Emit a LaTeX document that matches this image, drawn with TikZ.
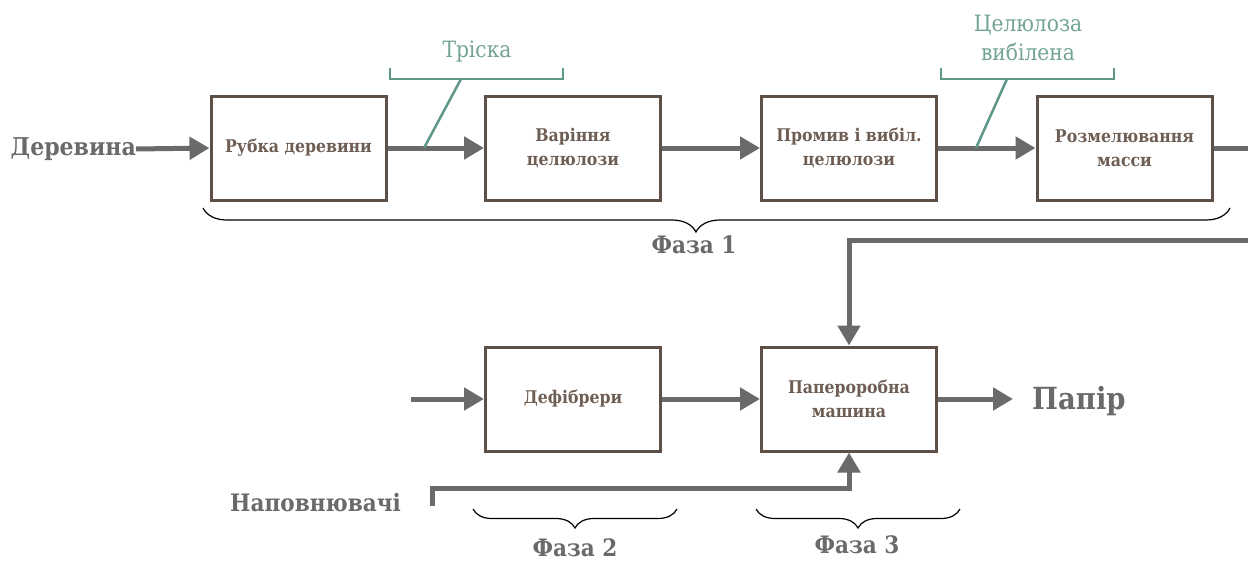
\documentclass[tikz,border=0pt]{standalone}
\usepackage{fontspec}
\setmainfont{DejaVu Serif Condensed}
\usetikzlibrary{arrows.meta,decorations.pathreplacing,positioning}
\definecolor{flowgray}{HTML}{6A6A6A}
\definecolor{boxbrown}{HTML}{5E4F47}
\definecolor{boxtext}{HTML}{6E5D52}
\definecolor{tealc}{HTML}{5E9689}
\definecolor{tealtext}{HTML}{72A396}
\tikzset{
  procbox/.style={draw=boxbrown, line width=3pt, minimum width=175pt, minimum height=104pt,
    inner sep=0pt, align=center, text=boxtext, font=\bfseries\fontsize{17.5}{24}\selectfont},
  flow/.style={draw=flowgray, line width=5pt, -{Triangle[length=20pt,width=22pt]}},
  flowline/.style={draw=flowgray, line width=5pt},
  biglabel/.style={text=flowgray, font=\bfseries\fontsize{24.5}{28}\selectfont, inner sep=0pt},
  teallabel/.style={text=tealtext, font=\fontsize{22.5}{29}\selectfont, align=center, inner sep=0pt},
  bracketline/.style={draw=tealc, line width=2.5pt},
  phasebrace/.style={draw=black, line width=1.2pt, decorate},
  phaselabel/.style={text=flowgray, font=\bfseries\fontsize{24}{28}\selectfont, inner sep=0pt}
}
\begin{document}
\begin{tikzpicture}[x=1pt,y=-1pt]
\useasboundingbox (0,0) rectangle (1248,562);
% top row
\node[procbox] (b1) at (298.5,148) {Рубка деревини};
\node[procbox] (b2) at (573,148) {Варіння\\целюлози};
\node[procbox] (b3) at (849,148) {Промив і вибіл.\\целюлози};
\node[procbox] (b4) at (1124.5,148) {Розмелювання\\масси};
\node[biglabel, anchor=east] (wood) at (136,149) {Деревина};
\coordinate (outR) at (1248,148);
\coordinate (inR) at (1248,240);
\coordinate (turn) at (849,240);
\draw[flow] (wood.east) -- (b1.west);
\draw[flow] (b1) -- (b2);
\draw[flow] (b2) -- (b3);
\draw[flow] (b3) -- (b4);
\draw[flowline] (b4.east) -- (outR);
% labels with brackets
\node[teallabel] (chip) at (477,52) {Тріска};
\coordinate (c1a) at (390,68); \coordinate (c1b) at (390,79);
\coordinate (c1c) at (563,79); \coordinate (c1d) at (563,68);
\coordinate (c1e) at (461,79); \coordinate (c1f) at (424,148);
\draw[bracketline] (c1a) -- (c1b) -- (c1c) -- (c1d);
\draw[bracketline] (c1e) -- (c1f);
\node[teallabel] (pulp) at (1028,38) {Целюлоза\\вибілена};
\coordinate (c2a) at (941,68); \coordinate (c2b) at (941,79);
\coordinate (c2c) at (1114,79); \coordinate (c2d) at (1114,68);
\coordinate (c2e) at (1007,79); \coordinate (c2f) at (976,148);
\draw[bracketline] (c2a) -- (c2b) -- (c2c) -- (c2d);
\draw[bracketline] (c2e) -- (c2f);
% phase 1 brace
\coordinate (p1a) at (203,208); \coordinate (p1b) at (1230,208);
\draw[phasebrace, decoration={brace, mirror, amplitude=24pt, aspect=0.48}] (p1a) -- (p1b);
\node[phaselabel] (ph1) at (694,245) {Фаза 1};
% bottom row
\node[procbox] (d) at (573,399) {Дефібрери};
\node[procbox] (m) at (849,399) {Папероробна\\машина};
\coordinate (inL) at (411,399);
\draw[flow] (inL) -- (d.west);
\draw[flow] (d) -- (m);
\draw[flow] (inR) -- (turn) -- (m.north);
\node[biglabel, anchor=west, font=\bfseries\fontsize{30.5}{34}\selectfont] (paper) at (1032,401) {Папір};
\coordinate (pin) at (1013,399);
\draw[flow] (m.east) -- (pin);
\node[biglabel, anchor=east, font=\bfseries\fontsize{24}{26}\selectfont] (fill) at (401,503) {Наповнювачі};
\coordinate (f0) at (432,506);
\coordinate (f1) at (432,488);
\coordinate (f2) at (849,488);
\draw[flow] (f0) -- (f1) -- (f2) -- (m.south);
% phase 2 & 3 braces
\coordinate (p2a) at (473,509); \coordinate (p2b) at (677,509);
\draw[phasebrace, decoration={brace, mirror, amplitude=19pt}] (p2a) -- (p2b);
\node[phaselabel] (ph2) at (575,548) {Фаза 2};
\coordinate (p3a) at (756,509); \coordinate (p3b) at (960,509);
\draw[phasebrace, decoration={brace, mirror, amplitude=19pt}] (p3a) -- (p3b);
\node[phaselabel] (ph3) at (857,545) {Фаза 3};
\end{tikzpicture}
\end{document}
